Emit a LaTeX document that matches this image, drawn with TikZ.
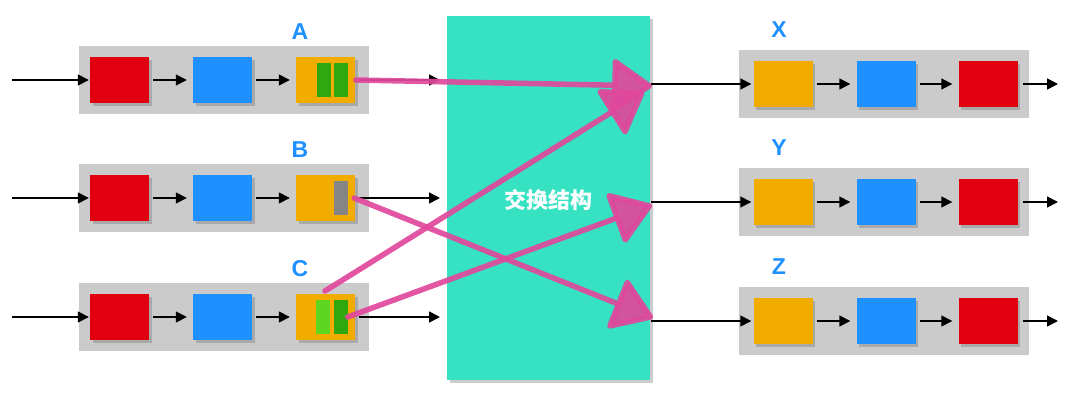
\documentclass[tikz,border=0pt]{standalone}
\usepackage{fontspec}
\setmainfont{Liberation Sans}
\newfontfamily\cjk{Noto Sans CJK SC}
\usetikzlibrary{arrows.meta,shadows}
\definecolor{cred}{HTML}{E0000F}
\definecolor{cblue}{HTML}{1E90FF}
\definecolor{corange}{HTML}{F2AC00}
\definecolor{cgreen}{HTML}{2EA80E}
\definecolor{clgreen}{HTML}{5CD620}
\definecolor{cpanel}{HTML}{CBCBCB}
\definecolor{cbar}{HTML}{858585}
\definecolor{cteal}{HTML}{36E2C2}
\definecolor{cpink}{HTML}{E0489C}
\tikzset{
  panel/.style={fill=cpanel,draw=none,minimum width=290pt,minimum height=68pt,inner sep=0pt},
  cell/.style={draw=none,minimum width=59pt,minimum height=46pt,inner sep=0pt,
    drop shadow={shadow xshift=2.5pt,shadow yshift=-2.5pt,opacity=0.45}},
  bar/.style={draw=none,minimum width=14pt,minimum height=34pt,inner sep=0pt},
  lab/.style={text=cblue,font=\fontsize{23}{23}\selectfont\bfseries},
  arr/.style={line width=1.6pt,-{Triangle[length=11pt,width=11pt]}},
  gap/.style={shorten <=4pt,shorten >=6pt},
  sw/.style={cpink,line width=5.5pt,line cap=round,opacity=0.92,
    -{Triangle[length=42pt,width=56pt,round]}},
}
\begin{document}
\begin{tikzpicture}[x=1pt,y=-1pt]
\useasboundingbox (0,0) rectangle (1080,402);
% switch fabric
\node[fill=cteal,minimum width=203pt,minimum height=364pt,inner sep=0pt,
  drop shadow={shadow xshift=3pt,shadow yshift=-3pt,opacity=0.4}] (T) at (548.5,198) {};
% left panels
\foreach \n/\y in {A/80,B/198,C/317}{
  \node[panel] (p\n) at (224,\y) {};
  \node[cell,fill=cred] (\n1) at (119.5,\y) {};
  \node[cell,fill=cblue] (\n2) at (222.5,\y) {};
  \node[cell,fill=corange] (\n3) at (325.5,\y) {};
  \node[lab] (l\n) at (300,\y-48) {\n};
  \coordinate (in\n) at (12,\y);
  \coordinate (o\n) at (440,\y);
  \draw[arr,shorten >=1pt] (in\n) -- (\n1);
  \draw[arr,gap] (\n1) -- (\n2);
  \draw[arr,gap] (\n2) -- (\n3);
  \draw[arr,shorten <=4pt] (\n3) -- (o\n);
}
\node[bar,fill=cgreen] (ga) at (324,80) {};
\node[bar,fill=cgreen] (gb) at (340.5,80) {};
\node[bar,fill=cbar] (gg) at (341,198) {};
\node[bar,fill=clgreen] (gc) at (323,317) {};
\node[bar,fill=cgreen] (gd) at (340.5,317) {};
% right panels
\foreach \n/\y in {X/84,Y/202,Z/321}{
  \node[panel] (p\n) at (883.5,\y) {};
  \node[cell,fill=corange] (\n1) at (783,\y) {};
  \node[cell,fill=cblue] (\n2) at (886,\y) {};
  \node[cell,fill=cred] (\n3) at (988,\y) {};
  \node[lab] (l\n) at (779,\y-54) {\n};
  \coordinate (e\n) at (651,\y);
  \coordinate (out\n) at (1058,\y);
  \draw[arr,shorten >=2pt] (e\n) -- (\n1);
  \draw[arr,gap] (\n1) -- (\n2);
  \draw[arr,gap] (\n2) -- (\n3);
  \draw[arr,shorten <=5pt] (\n3) -- (out\n);
}
\node[text=white,font=\cjk\fontsize{22}{22}\selectfont\bfseries] (tt) at (548,200) {交换结构};
% switching arrows
\coordinate (tX) at (652,86);
\coordinate (tX2) at (644,92);
\coordinate (tY) at (652,205);
\coordinate (tZ) at (653,318);
\coordinate (sC) at (325,291);
\draw[sw] ([xshift=8pt]gb.east) -- (tX);
\draw[sw] (sC) -- (tX2);
\draw[sw] ([xshift=6pt]gg.east) -- (tZ);
\draw[sw] (gd.east) -- (tY);
\end{tikzpicture}
\end{document}
